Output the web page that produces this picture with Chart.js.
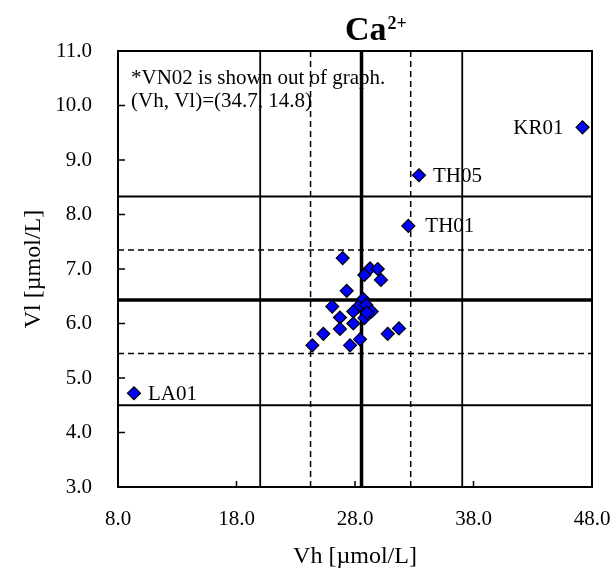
<!DOCTYPE html>
<html><head><meta charset="utf-8">
<script src="https://cdn.jsdelivr.net/npm/chart.js@4/dist/chart.umd.min.js"></script>
<style>html,body{margin:0;padding:0;background:#fff}#wrap{width:611px;height:581px;position:relative}</style>
</head><body><div id="wrap"><canvas id="c" width="611" height="581"></canvas></div>
<script>
// ---- data ----
const clusterX = [26.96, 29.27, 29.92, 28.79, 30.19, 27.30, 28.70, 26.08, 28.28, 28.95, 27.86, 29.41, 26.73, 28.79, 29.00, 27.86, 26.73, 25.33, 31.71, 30.76, 24.40, 27.58, 28.42];
const clusterY = [7.20, 7.01, 7.00, 6.89, 6.80, 6.60, 6.45, 6.31, 6.31, 6.34, 6.22, 6.22, 6.11, 6.10, 6.20, 6.00, 5.90, 5.81, 5.91, 5.81, 5.60, 5.60, 5.71];
const labeledNames = ['LA01', 'TH01', 'TH05', 'KR01'];
const labeledX = [9.35, 32.5, 33.4, 47.2];
const labeledY = [4.72, 7.79, 8.72, 9.60];
const vLinesX = [20.0, 24.25, 28.55, 32.7, 37.05];
const hLinesY = [8.33, 7.35, 6.43, 5.45, 4.5];
const lineKinds = ['solid', 'dashed', 'thick', 'dashed', 'solid'];
const xRange = [8, 48];
const yRange = [3, 11];
const xStep = 10;
const yStep = 1;
const noteLines = ['*VN02 is shown out of graph.', '(Vh, Vl)=(34.7, 14.8)'];
const titleMain = 'Ca';
const titleSup = '2+';
const xTitle = 'Vh [\u00B5mol/L]';
const yTitle = 'Vl [\u00B5mol/L]';

// ---- styles ----
const SERIF = "'Liberation Serif', 'Times New Roman', serif";
const kindStyle = {
  solid: {w: 1.8, dash: []},
  dashed: {w: 1.5, dash: [6, 4]},
  thick: {w: 3.5, dash: []}
};
const labelOffsets = {LA01: [14, 'left'], TH01: [17, 'left'], TH05: [14, 'left'], KR01: [-19, 'right']};

const datasets = [];
vLinesX.forEach((v, i) => {
  const s = kindStyle[lineKinds[i]];
  datasets.push({type: 'line', data: [{x: v, y: yRange[0]}, {x: v, y: yRange[1]}], borderColor: '#000', borderWidth: s.w, borderDash: s.dash, pointRadius: 0, order: 3});
});
hLinesY.forEach((v, i) => {
  const s = kindStyle[lineKinds[i]];
  datasets.push({type: 'line', data: [{x: xRange[0], y: v}, {x: xRange[1], y: v}], borderColor: '#000', borderWidth: s.w, borderDash: s.dash, pointRadius: 0, order: 3});
});
const pointStyleDs = {pointStyle: 'rectRot', pointRadius: 6.5, pointHoverRadius: 6.5, backgroundColor: '#0000FF', borderColor: '#000', borderWidth: 1.2, order: 1};
datasets.push(Object.assign({type: 'scatter', label: 'cluster', data: clusterX.map((x, i) => ({x, y: clusterY[i]}))}, pointStyleDs));
datasets.push(Object.assign({type: 'scatter', label: 'labeled', data: labeledX.map((x, i) => ({x, y: labeledY[i]}))}, pointStyleDs));
const labeledIndex = datasets.length - 1;

const decor = {
  id: 'decor',
  afterDatasetsDraw(chart) {
    const ctx = chart.ctx;
    const a = chart.chartArea;
    const xs = chart.scales.x, ys = chart.scales.y;
    ctx.save();
    ctx.strokeStyle = '#000';
    ctx.lineWidth = 2;
    ctx.setLineDash([]);
    ctx.strokeRect(a.left, a.top, a.right - a.left, a.bottom - a.top);
    ctx.lineWidth = 1.5;
    ctx.beginPath();
    xs.ticks.forEach(t => {
      if (t.value <= xRange[0] || t.value >= xRange[1]) return;
      const px = xs.getPixelForValue(t.value);
      ctx.moveTo(px, a.bottom); ctx.lineTo(px, a.bottom - 6);
    });
    ys.ticks.forEach(t => {
      if (t.value <= yRange[0] || t.value >= yRange[1]) return;
      const py = ys.getPixelForValue(t.value);
      ctx.moveTo(a.left, py); ctx.lineTo(a.left + 7, py);
    });
    ctx.stroke();
    ctx.fillStyle = '#000';
    ctx.font = '21px ' + SERIF;
    ctx.textBaseline = 'middle';
    const meta = chart.getDatasetMeta(labeledIndex);
    meta.data.forEach((el, i) => {
      const name = labeledNames[i];
      const o = labelOffsets[name];
      ctx.textAlign = o[1];
      ctx.fillText(name, el.x + o[0], el.y + 1);
    });
    ctx.textAlign = 'left';
    ctx.fillText(noteLines[0], a.left + 13, 78);
    ctx.fillText(noteLines[1], a.left + 13, 101);
    ctx.textBaseline = 'alphabetic';
    ctx.font = 'bold 34px ' + SERIF;
    const tx = 345;
    ctx.fillText(titleMain, tx, 40);
    const w = ctx.measureText(titleMain).width;
    ctx.font = 'bold 18px ' + SERIF;
    ctx.fillText(titleSup, tx + w + 1, 29);
    ctx.restore();
  }
};

new Chart(document.getElementById('c'), {
  data: {datasets},
  options: {
    responsive: false,
    animation: false,
    devicePixelRatio: 1,
    layout: {padding: {top: 51, right: 19, left: 0, bottom: 0}},
    plugins: {legend: {display: false}, tooltip: {enabled: false}, title: {display: false}},
    scales: {
      x: {
        type: 'linear', min: xRange[0], max: xRange[1],
        afterFit(s) { s.height = 94; s.paddingLeft = 0; s.paddingRight = 0; },
        grid: {display: false, drawTicks: false},
        border: {display: false},
        ticks: {stepSize: xStep, padding: 20, color: '#000', font: {family: SERIF, size: 21}, callback: v => Number(v).toFixed(1), maxRotation: 0},
        title: {display: true, text: xTitle, color: '#000', font: {family: SERIF, size: 24}, padding: {top: 0, bottom: 10}}
      },
      y: {
        type: 'linear', min: yRange[0], max: yRange[1],
        afterFit(s) { s.width = 118; s.paddingTop = 0; s.paddingBottom = 0; },
        grid: {display: false, drawTicks: false},
        border: {display: false},
        ticks: {stepSize: yStep, padding: 26, color: '#000', font: {family: SERIF, size: 21}, callback: v => Number(v).toFixed(1)},
        title: {display: true, text: yTitle, color: '#000', font: {family: SERIF, size: 24}, padding: {top: 19, bottom: 0}}
      }
    }
  },
  plugins: [decor]
});
</script>
</body></html>
